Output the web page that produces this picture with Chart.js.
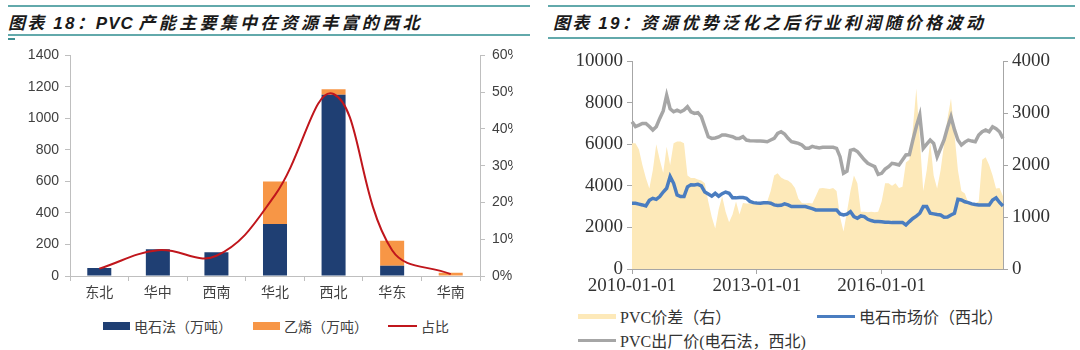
<!DOCTYPE html>
<html>
<head>
<meta charset="utf-8">
<script src="https://cdn.jsdelivr.net/npm/chart.js@4.4.1/dist/chart.umd.min.js"></script>
<style>
  body { margin: 0; width: 1080px; height: 350px; background: #fff; position: relative; overflow: hidden; }
  .rule { position: absolute; height: 2px; background: #62a9ab; }
  .title { position: absolute; top: 9px; line-height: 22px; white-space: nowrap; color: #1a1a1a;
           font: italic bold 17px "Liberation Sans", "Noto Sans CJK SC", sans-serif; }
  .title .pre { letter-spacing: 2.2px; }
  .title .cn { letter-spacing: 3.3px; }
  .panel { position: absolute; overflow: hidden; }
  .legend { position: absolute; white-space: nowrap; }
  .legend .item { position: absolute; display: flex; align-items: center; }
  .legend .sym { display: inline-block; margin-right: 4px; }
  #legendL { font: 14px "Liberation Sans", "Noto Sans CJK SC", sans-serif; color: #404040; }
  #legendR { font: 16px "Liberation Serif", "Noto Sans CJK SC", serif; color: #333; }
</style>
</head>
<body>

<!-- left panel header -->
<div class="rule" style="left:8px; top:5px; width:522px;"></div>
<div class="title" style="left:8px;"><span class="pre">图表 18：</span><span style="letter-spacing:1px;">PVC</span> <span class="cn">产能主要集中在资源丰富的西北</span></div>
<div class="rule" style="left:8px; top:34px; width:522px;"></div>
<div style="position:absolute; left:8px; top:38px; width:7px; height:2px; background:#3f8f92;"></div>

<!-- right panel header -->
<div class="rule" style="left:548px; top:5px; width:527px;"></div>
<div class="title" style="left:553px;"><span class="pre">图表 19：</span><span class="cn">资源优势泛化之后行业利润随价格波动</span></div>
<div class="rule" style="left:548px; top:37px; width:527px;"></div>

<div class="panel" style="left:0; top:40px; width:513px; height:270px;">
  <canvas id="capChart" width="540" height="270"></canvas>
</div>
<div class="legend" id="legendL"></div>

<div class="panel" style="left:540px; top:45px; width:540px; height:255px;">
  <canvas id="priceChart" width="540" height="255"></canvas>
</div>
<div class="legend" id="legendR"></div>

<script>
// ---- capacity by region (万吨) ----
var regions = ['东北', '华中', '西南', '华北', '西北', '华东', '华南'];
var carbideCap = [50, 170, 150, 330, 1150, 65, 0];
var ethyleneCap = [0, 0, 0, 270, 35, 158, 20];
var sharePct = [2.0, 7.0, 5.5, 22.0, 49.5, 7.0, 0.5];
var capTicks = [0, 200, 400, 600, 800, 1000, 1200, 1400];

// ---- monthly prices 2010-01 .. 2018-12 ----
var months = [];
for (var yr = 2010; yr <= 2018; yr++) {
    for (var mo = 1; mo <= 12; mo++) {
        months.push(yr + '-' + (mo < 10 ? '0' + mo : mo) + '-01');
    }
}
var shownDates = ['2010-01-01', '2013-01-01', '2016-01-01'];

var pvcSpread = [
    2420, 2420, 2300, 2000, 1750, 1550, 1900, 2400, 2100, 1850, 2350, 2000,
    2420, 2450, 2450, 2420, 1800, 1750, 1750, 1720, 1700, 1650, 1300, 1000,
    780, 1150, 1400, 1100, 900, 1050, 1300, 1050, 1270, 1260, 1260, 1250,
    1260, 1270, 1260, 1300, 1500, 1800, 1840, 1760, 1720, 1700, 1650, 1560,
    1350, 1270, 1260, 1270, 1260, 1400, 1550, 1560, 1550, 1540, 1560, 1500,
    1000, 720, 1100, 1500, 1800, 1650, 1100, 1100, 1090, 1100, 1090, 1100,
    1300, 1650, 1650, 1600, 1650, 1560, 1580, 2050, 2100, 2700, 3470, 2500,
    1500, 1900, 2450, 1800, 1550, 1900, 2400, 2900, 3280, 2600, 1900, 1500,
    1450, 1270, 1260, 1270, 1300, 2100, 2150, 2000, 1800, 1550, 1560, 1400
];
var carbidePrice = [
    3160, 3160, 3120, 3080, 3030, 3300, 3400, 3350, 3480, 3700, 3880, 4450,
    4120, 3560, 3480, 3480, 3950, 4050, 4040, 4070, 4000, 3700, 3600, 3500,
    3640, 3500, 3620, 3700, 3640, 3420, 3420, 3440, 3440, 3400, 3250, 3190,
    3170, 3160, 3180, 3190, 3160, 3080, 3050, 3060, 3130, 3080, 3000, 3000,
    3000, 3000, 3000, 2950, 2900, 2840, 2840, 2840, 2840, 2840, 2840, 2840,
    2650, 2600, 2640, 2760, 2520, 2440, 2550, 2520, 2390, 2330, 2280, 2280,
    2270, 2250, 2250, 2230, 2230, 2240, 2240, 2120, 2280, 2430, 2540, 2680,
    3000, 3000, 2680, 2650, 2620, 2600, 2490, 2500, 2600, 2680, 3350, 3320,
    3230, 3190, 3130, 3100, 3080, 3080, 3080, 3080, 3320, 3420, 3200, 3030
];
var pvcPrice = [
    7080, 6850, 6920, 7000, 7000, 6850, 6680, 6840, 7240, 7600, 8350, 7700,
    7560, 7640, 7560, 7640, 7800, 7560, 7480, 7520, 7320, 6840, 6360, 6280,
    6300, 6350, 6440, 6440, 6400, 6360, 6280, 6280, 6360, 6200, 6170, 6160,
    6150, 6150, 6140, 6120, 6200, 6280, 6520, 6600, 6490, 6280, 6120, 6080,
    6040, 5960, 5800, 5800, 5900, 5850, 5820, 5850, 5850, 5850, 5850, 5800,
    5400, 4600, 4700, 5700, 5750, 5650, 5450, 5250, 5080, 5000, 4920, 4550,
    4600, 4800, 4920, 5080, 5050, 5000, 5240, 5480, 5500, 6200, 6850, 7400,
    5800, 6000, 6200, 6040, 5400, 5800, 6200, 6800, 7320, 6700, 6200, 5960,
    6100, 6200, 6150, 6120, 6440, 6600, 6680, 6600, 6840, 6750, 6600, 6280
];

var sansFont = { family: '"Liberation Sans", "Noto Sans CJK SC", sans-serif', size: 14 };
var serifFont = { family: '"Liberation Serif", "Noto Sans CJK SC", serif', size: 19 };
var axisGrey = '#bfbfbf';
var plain = function(v) { return String(v); };

var capChart = new Chart(document.getElementById('capChart'), {
    type: 'bar',
    data: {
        labels: regions,
        datasets: [
            {
                type: 'line',
                label: '占比',
                data: sharePct,
                yAxisID: 'y1',
                borderColor: '#c0161c',
                borderWidth: 2,
                pointRadius: 0,
                tension: 0.4,
                order: 0
            },
            {
                label: '电石法（万吨）',
                data: carbideCap,
                backgroundColor: '#1f3f73',
                stack: 'cap',
                barPercentage: 0.41,
                categoryPercentage: 1,
                order: 1
            },
            {
                label: '乙烯（万吨）',
                data: ethyleneCap,
                backgroundColor: '#f79646',
                stack: 'cap',
                barPercentage: 0.41,
                categoryPercentage: 1,
                order: 1
            }
        ]
    },
    options: {
        responsive: false,
        animation: false,
        layout: { padding: { top: 14 } },
        plugins: { legend: { display: false }, tooltip: { enabled: false } },
        scales: {
            x: {
                stacked: true,
                grid: { drawOnChartArea: false, color: axisGrey, tickLength: 5 },
                border: { color: axisGrey },
                ticks: { color: '#404040', font: sansFont, padding: 4 },
                afterFit: function(s) { s.height = 34; }
            },
            y: {
                stacked: true,
                min: 0,
                max: capTicks[capTicks.length - 1],
                afterBuildTicks: function(s) { s.ticks = capTicks.map(function(v) { return { value: v }; }); },
                grid: { drawOnChartArea: false, color: axisGrey, tickLength: 5 },
                border: { color: axisGrey },
                ticks: { color: '#404040', font: sansFont, padding: 6, callback: plain },
                afterFit: function(s) { s.width = 70; }
            },
            y1: {
                position: 'right',
                min: 0,
                max: 60,
                grid: { drawOnChartArea: false, color: axisGrey, tickLength: 5 },
                border: { color: axisGrey },
                ticks: { stepSize: 10, color: '#404040', font: sansFont, padding: 7,
                         callback: function(v) { return v + '%'; } },
                afterFit: function(s) { s.width = 60; }
            }
        }
    }
});

var priceChart = new Chart(document.getElementById('priceChart'), {
    type: 'line',
    data: {
        labels: months,
        datasets: [
            {
                label: 'PVC出厂价(电石法，西北)',
                data: pvcPrice,
                yAxisID: 'y',
                borderColor: '#a6a6a6',
                borderWidth: 3.5,
                pointRadius: 0,
                tension: 0,
                order: 0
            },
            {
                label: '电石市场价（西北）',
                data: carbidePrice,
                yAxisID: 'y',
                borderColor: '#4a7dc0',
                borderWidth: 3.5,
                pointRadius: 0,
                tension: 0,
                order: 1
            },
            {
                label: 'PVC价差（右）',
                data: pvcSpread,
                yAxisID: 'y1',
                borderWidth: 0,
                borderColor: 'rgba(0,0,0,0)',
                backgroundColor: '#fde9b9',
                fill: 'origin',
                pointRadius: 0,
                tension: 0,
                order: 2
            }
        ]
    },
    options: {
        responsive: false,
        animation: false,
        layout: { padding: { top: 16 } },
        plugins: { legend: { display: false }, tooltip: { enabled: false } },
        scales: {
            x: {
                afterBuildTicks: function(s) {
                    s.ticks = s.ticks.filter(function(t) { return shownDates.indexOf(months[t.value]) >= 0; });
                },
                grid: { drawOnChartArea: false, color: '#a6a6a6', tickLength: 5 },
                border: { color: '#a6a6a6' },
                ticks: { autoSkip: false, maxRotation: 0, color: '#333', font: serifFont, padding: 1 },
                afterFit: function(s) { s.height = 31; }
            },
            y: {
                min: 0,
                max: 10000,
                grid: { drawOnChartArea: false, color: '#a6a6a6', tickLength: 5 },
                border: { color: '#a6a6a6' },
                ticks: { stepSize: 2000, color: '#333', font: serifFont, padding: 4, callback: plain },
                afterFit: function(s) { s.width = 92; }
            },
            y1: {
                position: 'right',
                min: 0,
                max: 4000,
                grid: { drawOnChartArea: false, color: '#a6a6a6', tickLength: 5 },
                border: { color: '#a6a6a6' },
                ticks: { stepSize: 1000, color: '#333', font: serifFont, padding: 4, callback: plain },
                afterFit: function(s) { s.width = 77; }
            }
        }
    }
});

// legends built from the chart datasets
function addItem(box, ds, x, y, sym) {
    var item = document.createElement('div');
    item.className = 'item';
    item.style.left = x + 'px';
    item.style.top = y + 'px';
    var s = document.createElement('span');
    s.className = 'sym';
    s.style.width = sym.w + 'px';
    s.style.height = sym.h + 'px';
    s.style.background = sym.color;
    item.appendChild(s);
    item.appendChild(document.createTextNode(ds.label));
    box.appendChild(item);
}

var capSets = capChart.data.datasets;
var legL = document.getElementById('legendL');
addItem(legL, capSets[1], 103, 316, { w: 27, h: 8, color: capSets[1].backgroundColor });
addItem(legL, capSets[2], 253, 316, { w: 27, h: 8, color: capSets[2].backgroundColor });
addItem(legL, capSets[0], 388, 316, { w: 29, h: 2, color: capSets[0].borderColor });

var priceSets = priceChart.data.datasets;
var legR = document.getElementById('legendR');
addItem(legR, priceSets[2], 578, 304, { w: 38, h: 5, color: priceSets[2].backgroundColor });
addItem(legR, priceSets[1], 817, 304, { w: 38, h: 3, color: priceSets[1].borderColor });
addItem(legR, priceSets[0], 578, 328, { w: 38, h: 3, color: priceSets[0].borderColor });
</script>
</body>
</html>
